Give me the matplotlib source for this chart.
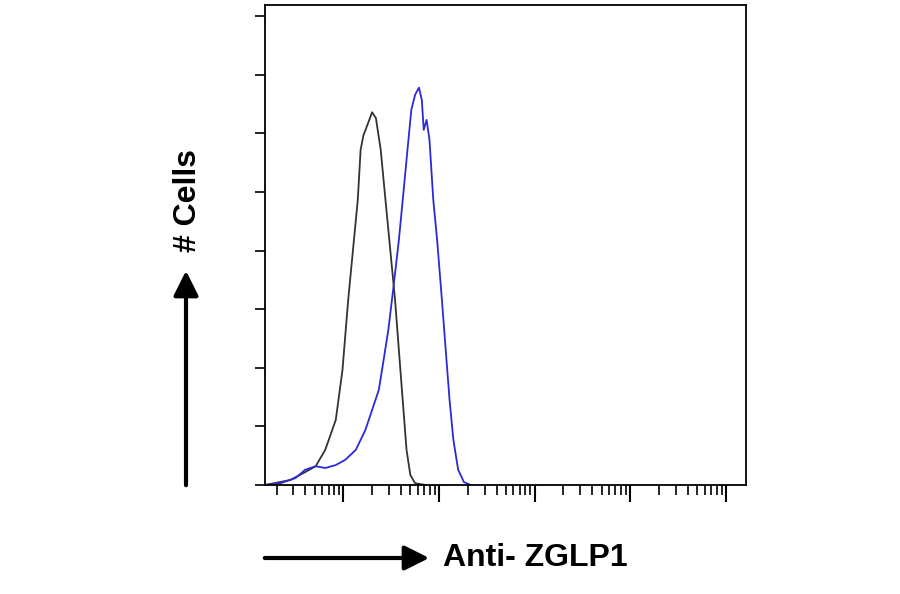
import numpy as np
import matplotlib
matplotlib.use("Agg")
import matplotlib.pyplot as plt
from matplotlib.ticker import LogLocator, NullFormatter

# log10 fluorescence intensity and cell counts (arbitrary units)
ctrl_log = [0.18,0.445,0.60,0.71,0.81,0.92,0.99,1.05,1.09,1.15,1.18,1.21,1.25,1.30,1.34,1.39,1.44,1.49,1.54,1.58,1.62,1.66,1.70,1.75,1.86]
ctrl_cnt = [0,0.085,0.22,0.32,0.60,1.11,1.96,3.16,3.84,4.86,5.72,5.97,6.14,6.36,6.26,5.72,4.86,4.01,3.16,2.30,1.45,0.60,0.17,0.03,0]
ab_log = [0.18,0.34,0.50,0.60,0.71,0.81,0.92,1.02,1.13,1.23,1.30,1.37,1.42,1.47,1.52,1.58,1.63,1.67,1.71,1.75,1.79,1.82,1.84,1.87,1.90,1.94,1.98,2.03,2.07,2.11,2.15,2.20,2.26,2.33]
ab_cnt = [0,0.03,0.12,0.26,0.32,0.29,0.34,0.43,0.60,0.94,1.28,1.62,2.13,2.65,3.33,4.18,5.03,5.72,6.40,6.66,6.78,6.57,6.06,6.23,5.89,4.86,4.18,3.16,2.30,1.45,0.77,0.26,0.05,0]
yticks = list(range(9))
xlabel = "Anti- ZGLP1"
ylabel = "# Cells"

fig = plt.figure(figsize=(9, 5.94), dpi=100)
ax = fig.add_axes([265/900, 109/594, 481/900, 480/594])
ax.plot(10**np.array(ctrl_log), ctrl_cnt, color="#333333", lw=1.3)
ax.plot(10**np.array(ab_log), ab_cnt, color="#2a2ad8", lw=1.3)
ax.set_xscale("log")
ax.set_xlim(10**0.18, 10**5.21)
ax.set_ylim(0, 8.19)
ax.set_yticks(yticks)
ax.set_yticklabels([])
ax.xaxis.set_major_locator(LogLocator(base=10, numticks=10))
ax.xaxis.set_minor_locator(LogLocator(base=10, subs=np.arange(2, 10), numticks=20))
ax.xaxis.set_major_formatter(NullFormatter())
ax.xaxis.set_minor_formatter(NullFormatter())
ax.tick_params(axis="y", direction="out", length=7, width=1.2)
ax.tick_params(axis="x", which="major", direction="out", length=12, width=1.5)
ax.tick_params(axis="x", which="minor", direction="out", length=7, width=1.2)
for s in ax.spines.values():
    s.set_linewidth(1.3)

fp = dict(family=["Liberation Sans", "DejaVu Sans"], fontweight="bold", fontsize=23)
fig.text(443/900, 1-558/594, xlabel, ha="left", va="center", **fp)
fig.text(188/900, 1-200/594, ylabel, ha="center", va="center", rotation=90, **fp)
fig.patches.append(matplotlib.patches.FancyArrowPatch((262/900, 1-558/594), (432/900, 1-558/594),
    transform=fig.transFigure, arrowstyle="-|>,head_length=10,head_width=5", lw=3, color="black", mutation_scale=1.5))
fig.patches.append(matplotlib.patches.FancyArrowPatch((186/900, 1-488/594), (186/900, 1-268/594),
    transform=fig.transFigure, arrowstyle="-|>,head_length=10,head_width=5", lw=3, color="black", mutation_scale=1.5))
fig.savefig("out.png", dpi=100)
